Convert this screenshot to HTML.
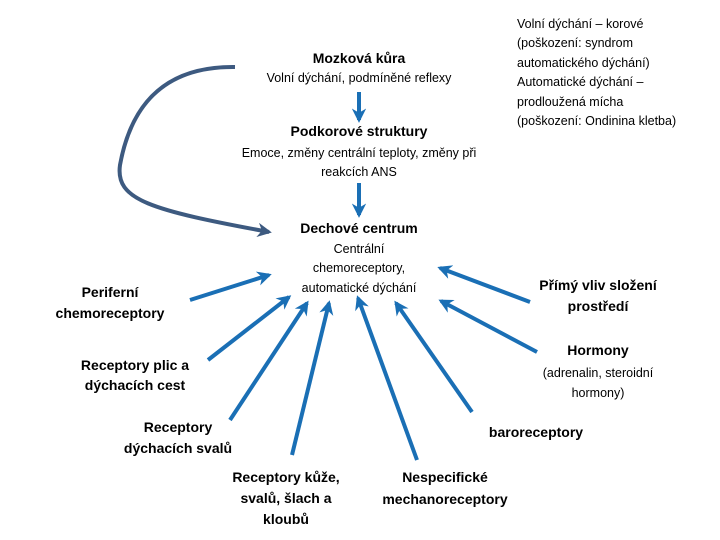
<!DOCTYPE html>
<html><head><meta charset="utf-8"><style>
html,body{margin:0;padding:0;background:#fff;}
svg{display:block;}
text{font-family:"Liberation Sans",sans-serif;fill:#000;}
.b{font-weight:bold;font-size:14px;}
.n{font-size:12.5px;}
</style></head><body>
<svg width="720" height="540" viewBox="0 0 720 540" xmlns="http://www.w3.org/2000/svg">
<defs>
<marker id="a" viewBox="0 0 10 10" refX="8" refY="5" markerWidth="3.6" markerHeight="3.6" orient="auto" markerUnits="strokeWidth"><path d="M0,0 L10,5 L0,10 L3,5 z" fill="#1a6fb5"/></marker>
<marker id="c" viewBox="0 0 10 10" refX="8" refY="5" markerWidth="3.6" markerHeight="3.6" orient="auto" markerUnits="strokeWidth"><path d="M0,0 L10,5 L0,10 L3,5 z" fill="#3d5a80"/></marker>
</defs>
<g stroke="#1a6fb5" stroke-width="4" fill="none" marker-end="url(#a)">
<line x1="359" y1="92" x2="359" y2="120"/>
<line x1="359" y1="183" x2="359" y2="215"/>
<line x1="190" y1="300" x2="269" y2="275"/>
<line x1="208" y1="360" x2="289" y2="297"/>
<line x1="230" y1="420" x2="307" y2="303"/>
<line x1="292" y1="455" x2="329" y2="303"/>
<line x1="417" y1="460" x2="358" y2="298"/>
<line x1="472" y1="412" x2="396" y2="303"/>
<line x1="537" y1="352" x2="441" y2="301"/>
<line x1="530" y1="302" x2="440" y2="268"/>
</g>
<path d="M235,67 C160,66 130,110 120,165 C115,200 150,210 269,232" stroke="#3d5a80" stroke-width="4" fill="none" marker-end="url(#c)"/>
<g text-anchor="middle">
<text class="b" x="359" y="63">Mozková kůra</text>
<text class="n" x="359" y="82">Volní dýchání, podmíněné reflexy</text>
<text class="b" x="359" y="136">Podkorové struktury</text>
<text class="n" x="359" y="157">Emoce, změny centrální teploty, změny při</text>
<text class="n" x="359" y="176">reakcích ANS</text>
<text class="b" x="359" y="233">Dechové centrum</text>
<text class="n" x="359" y="253">Centrální</text>
<text class="n" x="359" y="272">chemoreceptory,</text>
<text class="n" x="359" y="292">automatické dýchání</text>
<text class="b" x="110" y="297">Periferní</text>
<text class="b" x="110" y="318">chemoreceptory</text>
<text class="b" x="135" y="370">Receptory plic a</text>
<text class="b" x="135" y="390">dýchacích cest</text>
<text class="b" x="178" y="432">Receptory</text>
<text class="b" x="178" y="453">dýchacích svalů</text>
<text class="b" x="286" y="482">Receptory kůže,</text>
<text class="b" x="286" y="503">svalů, šlach a</text>
<text class="b" x="286" y="524">kloubů</text>
<text class="b" x="445" y="482">Nespecifické</text>
<text class="b" x="445" y="504">mechanoreceptory</text>
<text class="b" x="536" y="437">baroreceptory</text>
<text class="b" x="598" y="290">Přímý vliv složení</text>
<text class="b" x="598" y="311">prostředí</text>
<text class="b" x="598" y="355">Hormony</text>
<text class="n" x="598" y="377">(adrenalin, steroidní</text>
<text class="n" x="598" y="397">hormony)</text>
</g>
<g class="n">
<text class="n" x="517" y="28">Volní dýchání – korové</text>
<text class="n" x="517" y="47">(poškození: syndrom</text>
<text class="n" x="517" y="67">automatického dýchání)</text>
<text class="n" x="517" y="86">Automatické dýchání –</text>
<text class="n" x="517" y="106">prodloužená mícha</text>
<text class="n" x="517" y="125">(poškození: Ondinina kletba)</text>
</g>
</svg>
</body></html>
